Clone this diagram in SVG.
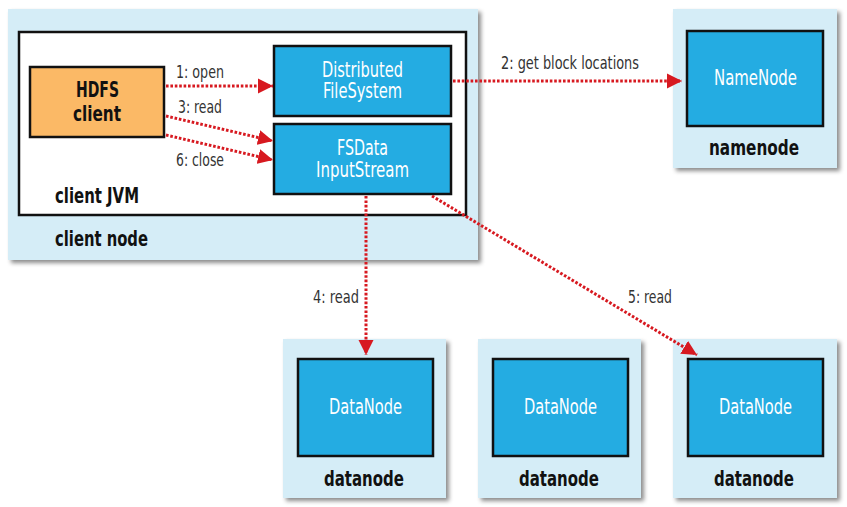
<svg xmlns="http://www.w3.org/2000/svg" width="847" height="507" viewBox="0 0 847 507">
<style>
.host{fill:#d5edf7;filter:url(#sh)}
.box{fill:#24ace2;stroke:#111;stroke-width:2.5}
.jvm{fill:#fff;stroke:#111;stroke-width:2.5}
.hdfs{fill:#fbb966;stroke:#111;stroke-width:2.5}
.t{font-family:"Liberation Sans Narrow","DejaVu Sans Condensed","Liberation Sans",sans-serif}
.w{fill:#fff;font-size:21px;text-anchor:middle}
.b{fill:#111;font-size:21px;font-weight:bold}
.l{fill:#333;font-size:17px}
.c{fill:none;stroke:#d71920;stroke-width:3;stroke-dasharray:2.6 1.8;marker-end:url(#ah)}
</style>
<defs>
<filter id="sh" x="-10%" y="-10%" width="125%" height="125%">
<feDropShadow dx="3" dy="3" stdDeviation="2" flood-color="#000" flood-opacity="0.45"/>
</filter>
<marker id="ah" markerUnits="userSpaceOnUse" markerWidth="16" markerHeight="16" refX="15" refY="7.5" orient="auto" viewBox="0 0 16 15">
<path d="M0,0 L15,7.5 L0,15 Z" fill="#d71920"/>
</marker>
</defs>
<rect width="847" height="507" fill="#fff"/>

<g id="client-node">
<rect class="host" x="8" y="9" width="470" height="251"/>
<text class="t b" x="55" y="246" textLength="93" lengthAdjust="spacingAndGlyphs">client node</text>
</g>
<g id="client-jvm">
<rect class="jvm" x="19" y="32" width="447" height="183"/>
<text class="t b" x="55" y="203" textLength="84" lengthAdjust="spacingAndGlyphs">client JVM</text>
</g>
<g id="hdfs-client">
<rect class="hdfs" x="30" y="67" width="134" height="70"/>
<text class="t b" text-anchor="middle"><tspan x="97.5" y="97" textLength="43" lengthAdjust="spacingAndGlyphs">HDFS</tspan><tspan x="97" y="121" textLength="48" lengthAdjust="spacingAndGlyphs">client</tspan></text>
</g>
<g id="distributed-filesystem">
<rect class="box" x="274" y="46" width="177" height="70"/>
<text class="t w"><tspan x="362.5" y="77" textLength="81" lengthAdjust="spacingAndGlyphs">Distributed</tspan><tspan x="362.5" y="98" textLength="79" lengthAdjust="spacingAndGlyphs">FileSystem</tspan></text>
</g>
<g id="fsdata-inputstream">
<rect class="box" x="274" y="124" width="177" height="70"/>
<text class="t w"><tspan x="362.5" y="155" textLength="51" lengthAdjust="spacingAndGlyphs">FSData</tspan><tspan x="362.5" y="177" textLength="93" lengthAdjust="spacingAndGlyphs">InputStream</tspan></text>
</g>

<g id="namenode">
<rect class="host" x="673" y="9" width="164" height="159"/>
<rect class="box" x="687" y="31" width="136" height="95"/>
<text class="t w" x="755.5" y="85" textLength="83" lengthAdjust="spacingAndGlyphs">NameNode</text>
<text class="t b" x="754" y="155" text-anchor="middle" textLength="90" lengthAdjust="spacingAndGlyphs">namenode</text>
</g>

<g id="datanode-1">
<rect class="host" x="283" y="339" width="163" height="159"/>
<rect class="box" x="298" y="359" width="135" height="97"/>
<text class="t w" x="365.5" y="414" textLength="73" lengthAdjust="spacingAndGlyphs">DataNode</text>
<text class="t b" x="364" y="486" text-anchor="middle" textLength="80" lengthAdjust="spacingAndGlyphs">datanode</text>
</g>
<g id="datanode-2">
<rect class="host" x="478" y="339" width="163" height="159"/>
<rect class="box" x="493" y="359" width="135" height="97"/>
<text class="t w" x="560.5" y="414" textLength="73" lengthAdjust="spacingAndGlyphs">DataNode</text>
<text class="t b" x="559" y="486" text-anchor="middle" textLength="80" lengthAdjust="spacingAndGlyphs">datanode</text>
</g>
<g id="datanode-3">
<rect class="host" x="673" y="339" width="164" height="159"/>
<rect class="box" x="688" y="359" width="135" height="97"/>
<text class="t w" x="755.5" y="414" textLength="73" lengthAdjust="spacingAndGlyphs">DataNode</text>
<text class="t b" x="754" y="486" text-anchor="middle" textLength="80" lengthAdjust="spacingAndGlyphs">datanode</text>
</g>

<g id="connectors">
<line class="c" x1="166" y1="86" x2="273" y2="86"/>
<line class="c" x1="453" y1="81" x2="682" y2="81"/>
<line class="c" x1="166" y1="116" x2="273" y2="141"/>
<line class="c" x1="166" y1="135" x2="273" y2="160"/>
<line class="c" x1="366" y1="196" x2="366" y2="355"/>
<line class="c" x1="432" y1="196" x2="697" y2="355"/>
<text class="t l" x="176" y="78" textLength="48" lengthAdjust="spacingAndGlyphs">1: open</text>
<text class="t l" x="501" y="69" textLength="138" lengthAdjust="spacingAndGlyphs">2: get block locations</text>
<text class="t l" x="178" y="113" textLength="44" lengthAdjust="spacingAndGlyphs">3: read</text>
<text class="t l" x="313" y="303" textLength="46" lengthAdjust="spacingAndGlyphs">4: read</text>
<text class="t l" x="628" y="303" textLength="44" lengthAdjust="spacingAndGlyphs">5: read</text>
<text class="t l" x="176" y="166" textLength="48" lengthAdjust="spacingAndGlyphs">6: close</text>
</g>
</svg>
